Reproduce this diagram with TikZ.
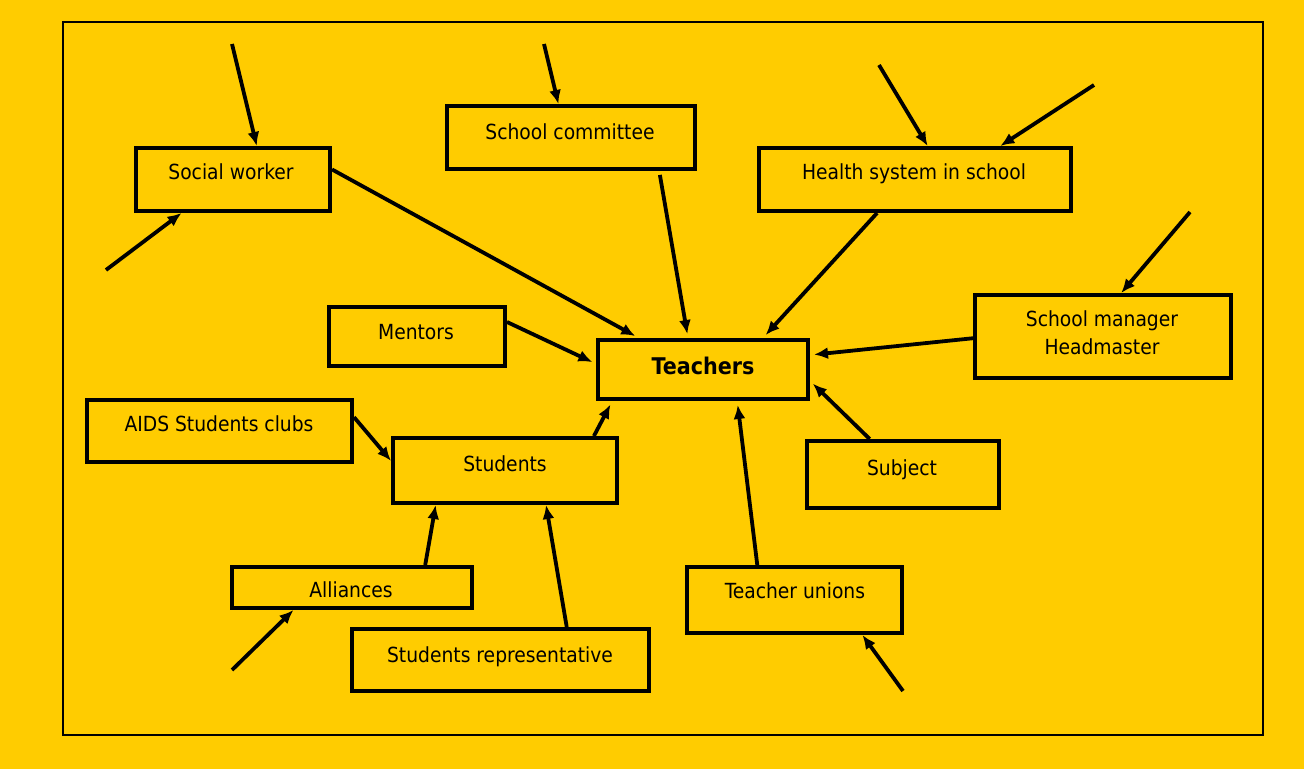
\documentclass[tikz,border=0pt]{standalone}
\usepackage{fontspec}
\setmainfont{DejaVu Sans Condensed}
\usetikzlibrary{arrows.meta,fit,calc}
\definecolor{bg}{HTML}{FFCC00}
\begin{document}
\begin{tikzpicture}[x=0.5pt,y=-0.5pt,
  box/.style={draw, line width=2pt, inner sep=0pt},
  lbl/.style={anchor=base, font=\fontsize{10.4}{14.5}\selectfont, inner sep=0pt, align=center},
  arr/.style={line width=1.9pt, -{Latex[length=7pt,width=6pt]}},
  gap/.style={shorten >=2pt}]
% background and frame
\fill[bg] (0,0) rectangle (1304,769);
\useasboundingbox (0,0) rectangle (1304,769);
\draw[line width=1.2pt] (63,22) rectangle (1263,735);

% boxes
\node[box, fit={(136,148)(330,211)}] (sw) {};
\node[box, fit={(447,106)(695,169)}] (sc) {};
\node[box, fit={(759,148)(1071,211)}] (hs) {};
\node[box, fit={(329,307)(505,366)}] (men) {};
\node[box, fit={(598,340)(808,399)}] (teach) {};
\node[box, fit={(975,295)(1231,378)}] (sm) {};
\node[box, fit={(87,400)(352,462)}] (aids) {};
\node[box, fit={(393,438)(617,503)}] (stu) {};
\node[box, fit={(807,441)(999,508)}] (sub) {};
\node[box, fit={(232,567)(472,608)}] (al) {};
\node[box, fit={(687,567)(902,633)}] (tu) {};
\node[box, fit={(352,629)(649,691)}] (sr) {};

% labels
\node[lbl] (swt) at (231,180) {Social worker};
\node[lbl] (sct) at (570,140) {School committee};
\node[lbl] (hst) at (914,180) {Health system in school};
\node[lbl] (ment) at (416,340) {Mentors};
\node[lbl, font=\fontsize{11.5}{14}\selectfont\bfseries] (teacht) at (703,375) {Teachers};
\node[lbl] (smt1) at (1102,327) {School manager};
\node[lbl] (smt2) at (1102,355) {Headmaster};
\node[lbl] (aidst) at (219,431) {AIDS Students clubs};
\node[lbl] (stut) at (505,471) {Students};
\node[lbl] (subt) at (902,475) {Subject};
\node[lbl] (alt) at (351,597) {Alliances};
\node[lbl] (tut) at (795,598) {Teacher unions};
\node[lbl] (srt) at (500,662) {Students representative};

% free ends of incoming arrows
\coordinate (f1) at (232,44);
\coordinate (f2) at (106,270);
\coordinate (f3) at (544,44);
\coordinate (f4) at (879,65);
\coordinate (f5) at (1094,85);
\coordinate (f6) at (1190,212);
\coordinate (f7) at (903,691);
\coordinate (f8) at (232,670);

% connectors
\draw[arr] (f1) -- ($(sw.north west)!0.62!(sw.north east)$);
\draw[arr] (f2) -- ($(sw.south west)!0.24!(sw.south east)$);
\draw[arr,gap] ($(sw.north east)!0.35!(sw.south east)$) -- ($(teach.north west)!0.2!(teach.north east)$);
\draw[arr] (f3) -- ($(sc.north west)!0.45!(sc.north east)$);
\draw[arr,gap,shorten <=2pt] ($(sc.south west)!0.85!(sc.south east)$) -- ($(teach.north west)!0.43!(teach.north east)$);
\draw[arr] (f4) -- ($(hs.north west)!0.54!(hs.north east)$);
\draw[arr] (f5) -- ($(hs.north west)!0.77!(hs.north east)$);
\draw[arr,gap] ($(hs.south west)!0.38!(hs.south east)$) -- ($(teach.north west)!0.78!(teach.north east)$);
\draw[arr] (f6) -- ($(sm.north west)!0.57!(sm.north east)$);
\draw[arr,gap] ($(sm.north west)!0.52!(sm.south west)$) -- ($(teach.north east)!0.27!(teach.south east)$);
\draw[arr,gap] ($(sub.north west)!0.33!(sub.north east)$) -- ($(teach.north east)!0.68!(teach.south east)$);
\draw[arr,gap] ($(tu.north west)!0.33!(tu.north east)$) -- ($(teach.south west)!0.66!(teach.south east)$);
\draw[arr] (f7) -- ($(tu.south west)!0.81!(tu.south east)$);
\draw[arr,gap] ($(men.north east)!0.27!(men.south east)$) -- ($(teach.north west)!0.41!(teach.south west)$);
\draw[arr,gap] ($(stu.north west)!0.89!(stu.north east)$) -- ($(teach.south west)!0.076!(teach.south east)$);
\draw[arr] ($(aids.north east)!0.29!(aids.south east)$) -- ($(stu.north west)!0.36!(stu.south west)$);
\draw[arr] ($(al.north west)!0.8!(al.north east)$) -- ($(stu.south west)!0.196!(stu.south east)$);
\draw[arr] ($(sr.north west)!0.72!(sr.north east)$) -- ($(stu.south west)!0.68!(stu.south east)$);
\draw[arr] (f8) -- ($(al.south west)!0.26!(al.south east)$);
\end{tikzpicture}
\end{document}
